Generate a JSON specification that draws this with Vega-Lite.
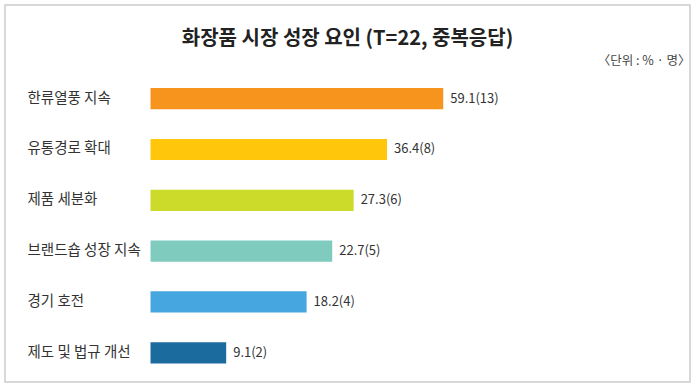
{
  "$schema": "https://vega.github.io/schema/vega-lite/v6.json",
  "width": 700,
  "height": 389,
  "autosize": {"type": "fit", "contains": "padding"},
  "padding": {"left": 5, "top": 5, "right": 10, "bottom": 7},
  "background": "white",
  "title": {
    "text": "화장품 시장 성장 요인 (T=22, 중복응답)",
    "font": "Noto Sans CJK KR",
    "fontSize": 20,
    "fontWeight": "bold",
    "color": "#222222",
    "anchor": "middle",
    "offset": -44
  },
  "data": {
    "values": [
      {"factor": "한류열풍 지속", "pct": 59.1, "n": 13, "label": "59.1(13)"},
      {"factor": "유통경로 확대", "pct": 36.4, "n": 8, "label": "36.4(8)"},
      {"factor": "제품 세분화", "pct": 27.3, "n": 6, "label": "27.3(6)"},
      {"factor": "브랜드숍 성장 지속", "pct": 22.7, "n": 5, "label": "22.7(5)"},
      {"factor": "경기 호전", "pct": 18.2, "n": 4, "label": "18.2(4)"},
      {"factor": "제도 및 법규 개선", "pct": 9.1, "n": 2, "label": "9.1(2)"}
    ]
  },
  "encoding": {
    "y": {
      "field": "factor",
      "type": "nominal",
      "sort": null,
      "scale": {"paddingInner": 0.583, "paddingOuter": 1.032, "align": 0.817},
      "axis": {
        "title": null,
        "orient": "left",
        "offset": -145,
        "domain": false,
        "ticks": false,
        "grid": false,
        "labelAlign": "left",
        "labelPadding": 123,
        "labelFont": "Noto Sans CJK KR",
        "labelFontSize": 14.5,
        "labelColor": "#333333",
        "labelLimit": 200
      }
    },
    "x": {
      "field": "pct",
      "type": "quantitative",
      "scale": {"type": "log", "domain": [1.352, 496], "nice": false},
      "axis": {
        "orient": "top",
        "offset": -62,
        "title": "〈단위 : % · 명〉",
        "titleAnchor": "end",
        "titleAlign": "right",
        "titleFont": "Noto Sans CJK KR",
        "titleFontSize": 12.5,
        "titleFontWeight": "normal",
        "titleColor": "#444444",
        "titlePadding": 0,
        "labels": false,
        "ticks": false,
        "domain": false,
        "grid": false
      }
    }
  },
  "layer": [
    {
      "mark": {"type": "bar"},
      "encoding": {
        "x2": {"datum": 4.74},
        "color": {
          "field": "factor",
          "type": "nominal",
          "sort": null,
          "legend": null,
          "scale": {
            "domain": ["한류열풍 지속", "유통경로 확대", "제품 세분화", "브랜드숍 성장 지속", "경기 호전", "제도 및 법규 개선"],
            "range": ["#F7941D", "#FFC60B", "#CCDA2A", "#7FCCBF", "#46A6DF", "#1B6B9E"]
          }
        }
      }
    },
    {
      "mark": {
        "type": "text",
        "align": "left",
        "baseline": "middle",
        "dx": 7,
        "font": "Noto Sans CJK KR",
        "fontSize": 13,
        "color": "#333333"
      },
      "encoding": {
        "text": {"field": "label", "type": "nominal"}
      }
    }
  ],
  "config": {
    "view": {"stroke": "#cccccc", "strokeWidth": 1.5}
  }
}
